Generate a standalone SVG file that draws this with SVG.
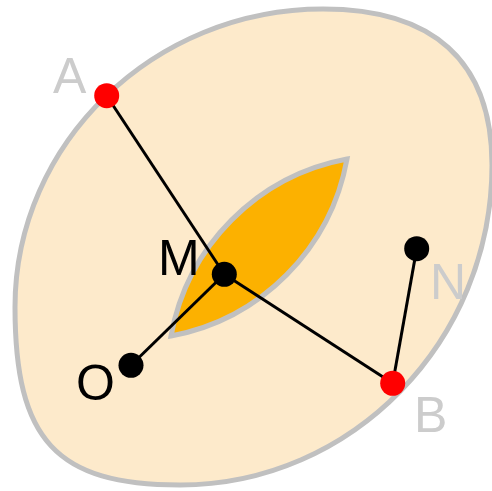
<svg xmlns="http://www.w3.org/2000/svg" width="492" height="491" viewBox="0 0 492 491">
<style>
.region{stroke:#c0c0c0;stroke-width:5;stroke-linejoin:miter}
.seg{stroke:#000;stroke-width:3;fill:none}
.pt{fill:#000}
.ptr{fill:#ff0000}
.lbl{font-family:"Liberation Sans",Arial,sans-serif;font-size:50px}
.lg{fill:#cccccc}
.dk{fill:#000}
</style>
<g id="outer">
<path class="region" fill="#fdeacb" d="M323,9 C432,9 492,60 492,165 C492,341 352,485 180,485 C56,485 15,440 15,307 C15,143 154,9 323,9 Z"/>
</g>
<g id="lens">
<path class="region" fill="#fcb100" d="M171,336 A220,220 0 0 1 347,159 A220,220 0 0 1 171,336 Z"/>
</g>
<g id="connectors">
<line class="seg" x1="106.7" y1="95.7" x2="224.3" y2="274.3"/>
<line class="seg" x1="224.3" y1="274.3" x2="392.7" y2="383.3"/>
<line class="seg" x1="224.3" y1="274.3" x2="131" y2="365.3"/>
<line class="seg" x1="392.7" y1="383.3" x2="416.7" y2="248.7"/>
</g>
<g id="A"><circle class="ptr" cx="106.7" cy="95.7" r="12.5"/><text class="lbl lg" x="53" y="93">A</text></g>
<g id="M"><circle class="pt" cx="224.3" cy="274.3" r="12.5"/><text class="lbl dk" x="158" y="275">M</text></g>
<g id="O"><circle class="pt" cx="131" cy="365.3" r="12.5"/><text class="lbl dk" x="76" y="400">O</text></g>
<g id="N"><circle class="pt" cx="416.7" cy="248.7" r="12.5"/><text class="lbl lg" x="430" y="299">N</text></g>
<g id="B"><circle class="ptr" cx="392.7" cy="383.3" r="12.5"/><text class="lbl lg" x="414" y="432">B</text></g>
</svg>
